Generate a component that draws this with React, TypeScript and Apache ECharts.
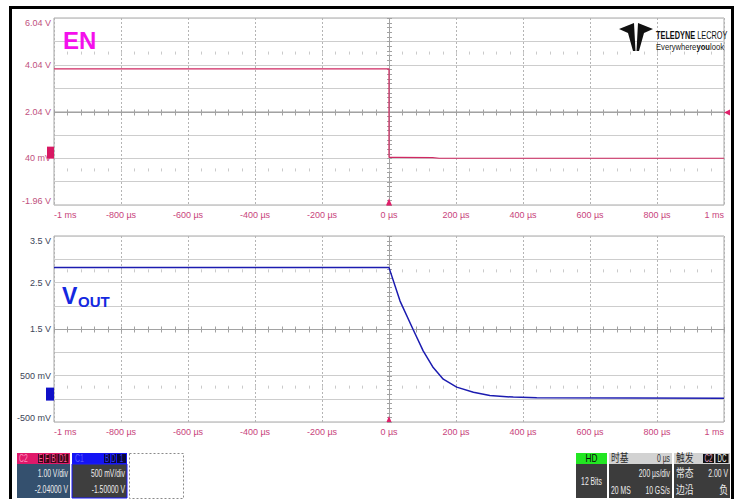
import React, { useEffect, useRef } from 'react';
import * as echarts from 'echarts';

// ---- data ----
const enTime = [-1000, 0, 0, 20, 130, 150, 1000];
const enVolts = [3.86, 3.86, 0.08, 0.08, 0.07, 0.04, 0.04];
const voutTime = [-1000, 0, 33, 72, 102, 132, 162, 202, 252, 301, 371, 441, 1000];
const voutVolts = [2.82, 2.82, 2.1, 1.49, 1.03, 0.67, 0.42, 0.25, 0.14, 0.07, 0.035, 0.02, 0.01];

const timeMin = -1000;
const timeMax = 1000;
const timeStep = 200;
const enMin = -1.96;
const enMax = 6.04;
const enStep = 1;
const voutMin = -0.5;
const voutMax = 3.5;
const voutStep = 0.5;

const SANS = "'Liberation Sans', Arial, sans-serif";
const CJK = "'Liberation Sans', 'Noto Sans CJK SC', sans-serif";

function timeLabel(v: number) {
  if (v === -1000) return '-1 ms';
  if (v === 1000) return '1 ms';
  return `${Math.round(v)} µs`;
}

function enLabel(v: number) {
  const idx = Math.round((v - enMin) / enStep);
  if (idx % 2 !== 0) return '';
  if (Math.abs(v - 0.04) < 1e-6) return '40 mV';
  return `${v.toFixed(2)} V`;
}

function voutLabel(v: number) {
  const idx = Math.round((v - voutMin) / voutStep);
  if (idx % 2 !== 0) return '';
  if (Math.abs(v - 0.5) < 1e-6) return '500 mV';
  if (Math.abs(v + 0.5) < 1e-6) return '-500 mV';
  return `${v.toFixed(1)} V`;
}

function makeGraticule(yMin: number, yMax: number, yStep: number) {
  const centerY = (yMin + yMax) / 2;
  const rowA = yMax - 1.5 * yStep;
  const rowB = yMax - 6.5 * yStep;
  const minorT: number[] = [];
  for (let t = timeMin; t <= timeMax + 1e-9; t += timeStep / 5) minorT.push(t);
  const minorV: number[] = [];
  for (let v = yMin; v <= yMax + 1e-9; v += yStep / 5) minorV.push(v);
  return (_params: any, api: any) => {
    const children: any[] = [];
    const dark = { stroke: '#a2a2a2', lineWidth: 1 };
    const light = { stroke: '#cacaca', lineWidth: 1 };
    const pTop = api.coord([0, yMax]);
    const pBot = api.coord([0, yMin]);
    children.push({ type: 'line', shape: { x1: Math.round(pTop[0]) + 0.5, y1: pTop[1], x2: Math.round(pBot[0]) + 0.5, y2: pBot[1] }, style: dark });
    const pL = api.coord([timeMin, centerY]);
    const pR = api.coord([timeMax, centerY]);
    const cy = Math.round(pL[1]) + 0.5;
    children.push({ type: 'line', shape: { x1: pL[0], y1: cy, x2: pR[0], y2: cy }, style: dark });
    for (const t of minorT) {
      const p = api.coord([t, centerY]);
      const x = Math.round(p[0]) + 0.5;
      children.push({ type: 'line', shape: { x1: x, y1: cy - 3, x2: x, y2: cy + 3 }, style: dark });
      for (const rv of [rowA, rowB]) {
        const q = api.coord([t, rv]);
        children.push({ type: 'line', shape: { x1: x, y1: q[1] - 1.5, x2: x, y2: q[1] + 1.5 }, style: light });
      }
    }
    for (const v of minorV) {
      const p = api.coord([0, v]);
      const y = Math.round(p[1]) + 0.5;
      const x = Math.round(p[0]) + 0.5;
      children.push({ type: 'line', shape: { x1: x - 2.5, y1: y, x2: x + 2.5, y2: y }, style: dark });
    }
    return { type: 'group', children };
  };
}

function statusText(text: string, x: number, y: number, align: string, fill = '#ececec', size = 11, family = SANS, sx = 0.62) {
  return {
    type: 'text',
    x,
    y,
    scaleX: sx,
    silent: true,
    style: { text, fill, fontSize: size, fontFamily: family, align, verticalAlign: 'middle' },
    z: 20,
  };
}

function rect(x: number, y: number, w: number, h: number, fill: string, extra: any = {}) {
  return { type: 'rect', shape: { x, y, width: w, height: h }, style: { fill, ...extra }, z: 19, silent: true };
}

export default function App() {
  const ref = useRef<HTMLDivElement>(null);
  useEffect(() => {
    if (!ref.current) return;
    const chart = echarts.init(ref.current, undefined, { renderer: 'svg' });

    const xAxisBase = (gridIndex: number) => ({
      type: 'value',
      gridIndex,
      min: timeMin,
      max: timeMax,
      interval: timeStep,
      axisLine: { show: false },
      axisTick: { show: false },
      splitLine: { show: true, lineStyle: { color: '#b4b4b4', type: [2, 2], width: 1 } },
      axisLabel: {
        formatter: timeLabel,
        color: '#c8447c',
        fontSize: 9,
        fontFamily: SANS,
        margin: 5,
        alignMinLabel: 'left',
        alignMaxLabel: 'right',
        showMinLabel: true,
        showMaxLabel: true,
      },
    });

    const enData = enTime.map((t, i) => [t, enVolts[i]]);
    const voutData = voutTime.map((t, i) => [t, voutVolts[i]]);

    const option: any = {
      animation: false,
      backgroundColor: '#ffffff',
      grid: [
        { left: 54, top: 18, width: 670, height: 187, show: true, borderColor: '#a8a8a8', borderWidth: 1, backgroundColor: 'transparent' },
        { left: 54, top: 236, width: 670, height: 186, show: true, borderColor: '#a8a8a8', borderWidth: 1, backgroundColor: 'transparent' },
      ],
      xAxis: [xAxisBase(0), xAxisBase(1)],
      yAxis: [
        {
          type: 'value',
          gridIndex: 0,
          min: enMin,
          max: enMax,
          interval: enStep,
          axisLine: { show: false },
          axisTick: { show: false },
          splitLine: { show: true, lineStyle: { color: '#cdcdcd', width: 1 } },
          axisLabel: {
            formatter: enLabel,
            color: '#c0507e',
            fontSize: 9,
            fontFamily: SANS,
            margin: 3,
            showMinLabel: true,
            showMaxLabel: true,
            verticalAlignMaxLabel: 'top',
            verticalAlignMinLabel: 'bottom',
          },
        },
        {
          type: 'value',
          gridIndex: 1,
          min: voutMin,
          max: voutMax,
          interval: voutStep,
          axisLine: { show: false },
          axisTick: { show: false },
          splitLine: { show: true, lineStyle: { color: '#cdcdcd', width: 1 } },
          axisLabel: {
            formatter: voutLabel,
            color: '#3c4458',
            fontSize: 9,
            fontFamily: SANS,
            margin: 3,
            showMinLabel: true,
            showMaxLabel: true,
            verticalAlignMaxLabel: 'top',
            verticalAlignMinLabel: 'bottom',
          },
        },
      ],
      series: [
        {
          type: 'custom',
          xAxisIndex: 0,
          yAxisIndex: 0,
          data: [[0, 0]],
          renderItem: makeGraticule(enMin, enMax, enStep),
          silent: true,
          z: 1,
        },
        {
          type: 'custom',
          xAxisIndex: 1,
          yAxisIndex: 1,
          data: [[0, 0]],
          renderItem: makeGraticule(voutMin, voutMax, voutStep),
          silent: true,
          z: 1,
        },
        {
          type: 'line',
          name: 'EN',
          xAxisIndex: 0,
          yAxisIndex: 0,
          data: enData,
          showSymbol: false,
          lineStyle: { color: '#d02862', width: 1.2 },
          z: 5,
          markPoint: {
            silent: true,
            data: [
              {
                coord: [timeMin, 0.28],
                symbol: 'rect',
                symbolSize: [7, 12],
                symbolOffset: [-3.5, 0],
                itemStyle: { color: '#d81862' },
                label: { show: false },
              },
              {
                coord: [0, enMin],
                symbol: 'triangle',
                symbolSize: [6, 7],
                symbolOffset: [0, -3],
                itemStyle: { color: '#e0206a' },
                label: { show: false },
              },
              {
                coord: [timeMax, 2.0],
                symbol: 'triangle',
                symbolSize: [6, 6],
                symbolRotate: 90,
                symbolOffset: [3, 0],
                itemStyle: { color: '#e0206a' },
                label: { show: false },
              },
            ],
          },
        },
        {
          type: 'line',
          name: 'VOUT',
          xAxisIndex: 1,
          yAxisIndex: 1,
          data: voutData,
          showSymbol: false,
          lineStyle: { color: '#1c1cb0', width: 1.5 },
          z: 5,
          markPoint: {
            silent: true,
            data: [
              {
                coord: [timeMin, 0.1],
                symbol: 'rect',
                symbolSize: [8, 13],
                symbolOffset: [-4, 0],
                itemStyle: { color: '#1010c8' },
                label: { show: false },
              },
              {
                coord: [0, voutMin],
                symbol: 'triangle',
                symbolSize: [5, 6],
                symbolOffset: [0, -3],
                itemStyle: { color: '#e0206a' },
                label: { show: false },
              },
            ],
          },
        },
      ],
      graphic: [
        // outer frame
        { type: 'rect', shape: { x: 10.5, y: 7.5, width: 722, height: 500 }, style: { fill: 'none', stroke: '#000', lineWidth: 3 }, z: 30, silent: true },
        // channel names
        { type: 'text', x: 63, y: 28, silent: true, z: 20, style: { text: 'EN', fill: '#f410ec', fontSize: 24, fontWeight: 'bold', fontFamily: SANS, verticalAlign: 'top' } },
        { type: 'text', x: 62, y: 284, silent: true, z: 20, style: { text: 'V', fill: '#1428e0', fontSize: 23, fontWeight: 'bold', fontFamily: SANS, verticalAlign: 'top' } },
        { type: 'text', x: 78, y: 294, silent: true, z: 20, style: { text: 'OUT', fill: '#1428e0', fontSize: 15, fontWeight: 'bold', fontFamily: SANS, verticalAlign: 'top' } },
        // logo emblem
        { type: 'polygon', shape: { points: [[619, 29], [634, 23], [635.5, 51], [633, 51], [628, 33]] }, style: { fill: '#111' }, z: 20, silent: true },
        { type: 'polygon', shape: { points: [[653, 29], [638, 23], [636.5, 51], [639, 51], [644, 33]] }, style: { fill: '#111' }, z: 20, silent: true },
        {
          type: 'text', x: 656, y: 35.5, scaleX: 0.7, silent: true, z: 20,
          style: {
            text: '{b|TELEDYNE} LECROY', fill: '#111', fontSize: 10.5, fontFamily: SANS, verticalAlign: 'middle',
            rich: { b: { fontWeight: 'bold', fontSize: 10.5, fontFamily: SANS, fill: '#111' } },
          },
        },
        {
          type: 'text', x: 656, y: 46.5, scaleX: 0.85, silent: true, z: 20,
          style: {
            text: 'Everywhere{b|you}look', fill: '#222', fontSize: 9, fontFamily: SANS, verticalAlign: 'middle',
            rich: { b: { fontWeight: 'bold', fontSize: 9, fontFamily: SANS, fill: '#111' } },
          },
        },
        // C2 box
        rect(17, 453, 53, 11, '#e0186a'),
        statusText('C2', 19, 458.5, 'left', '#ff8cbc', 11),
        rect(38, 454, 5, 9, '#3a0618'),
        statusText('E', 40.5, 458.5, 'center', '#ff5c9c', 10),
        rect(44, 454, 5.5, 9, '#3a0618'),
        statusText('F', 46.8, 458.5, 'center', '#ff5c9c', 10),
        rect(50.5, 454, 6, 9, '#3a0618'),
        statusText('B', 53.5, 458.5, 'center', '#ff5c9c', 10),
        rect(57.5, 454, 11, 9, '#3a0618'),
        statusText('D1', 63, 458.5, 'center', '#ff5c9c', 10),
        rect(17, 464, 53, 34, '#34506e'),
        statusText('1.00 V/div', 68, 473.5, 'right'),
        statusText('-2.04000 V', 68, 489, 'right'),
        // C1 box
        rect(72, 453, 55, 11, '#1414f4'),
        statusText('C1', 75, 458.5, 'left', '#5a5aff', 11),
        rect(104, 454, 6, 9, '#08083a'),
        statusText('B', 107, 458.5, 'center', '#3a3aff', 10),
        rect(111, 454, 5, 9, '#08083a'),
        statusText('D', 113.5, 458.5, 'center', '#3a3aff', 10),
        rect(117, 454, 9, 9, '#08083a'),
        statusText('1', 121.5, 458.5, 'center', '#3a3aff', 10),
        rect(72, 464, 55, 34, '#3e3e3e', { stroke: '#1a1aff', lineWidth: 1 }),
        statusText('500 mV/div', 125, 473.5, 'right'),
        statusText('-1.50000 V', 125, 489, 'right'),
        // dashed empty box
        { type: 'rect', shape: { x: 129.5, y: 453.5, width: 54, height: 45 }, style: { fill: 'none', stroke: '#8a8a8a', lineWidth: 1, lineDash: [2, 2] }, z: 19, silent: true },
        // HD box
        rect(576, 453, 31, 11, '#22e622'),
        statusText('HD', 591.5, 458.5, 'center', '#0a0a0a', 11, SANS, 0.75),
        rect(576, 464, 31, 34, '#3c3c3c'),
        statusText('12 Bits', 591.5, 481, 'center'),
        // timebase box
        rect(609, 453, 63, 11, '#d2d2d2'),
        statusText('时基', 611, 458.5, 'left', '#2a2a2a', 11, CJK, 0.8),
        statusText('0 µs', 670, 458.5, 'right', '#2a2a2a', 11),
        rect(609, 464, 63, 34, '#3c3c3c'),
        statusText('200 µs/div', 670, 473.5, 'right'),
        statusText('20 MS', 611, 490, 'left'),
        statusText('10 GS/s', 670, 490, 'right'),
        // trigger box
        rect(674, 453, 56, 11, '#d2d2d2'),
        statusText('触发', 676, 458.5, 'left', '#2a2a2a', 11, CJK, 0.8),
        rect(703, 454, 11, 9, '#111111'),
        statusText('C2', 708.5, 458.5, 'center', '#e0a0c0', 10),
        rect(715.5, 454, 13, 9, '#111111'),
        statusText('DC', 722, 458.5, 'center', '#f0f0f0', 10),
        rect(674, 464, 56, 34, '#3c3c3c'),
        statusText('常态', 676, 473.5, 'left', '#ececec', 11, CJK, 0.8),
        statusText('2.00 V', 728, 473.5, 'right'),
        statusText('边沿', 676, 490, 'left', '#ececec', 11, CJK, 0.8),
        statusText('负', 728, 490, 'right', '#ececec', 11, CJK, 0.8),
      ],
    };

    chart.setOption(option);
    return () => {
      chart.dispose();
    };
  }, []);

  return (
    <div
      ref={ref}
      style={{ position: 'fixed', left: 0, top: 0, width: 739, height: 499, background: '#fff' }}
    />
  );
}
